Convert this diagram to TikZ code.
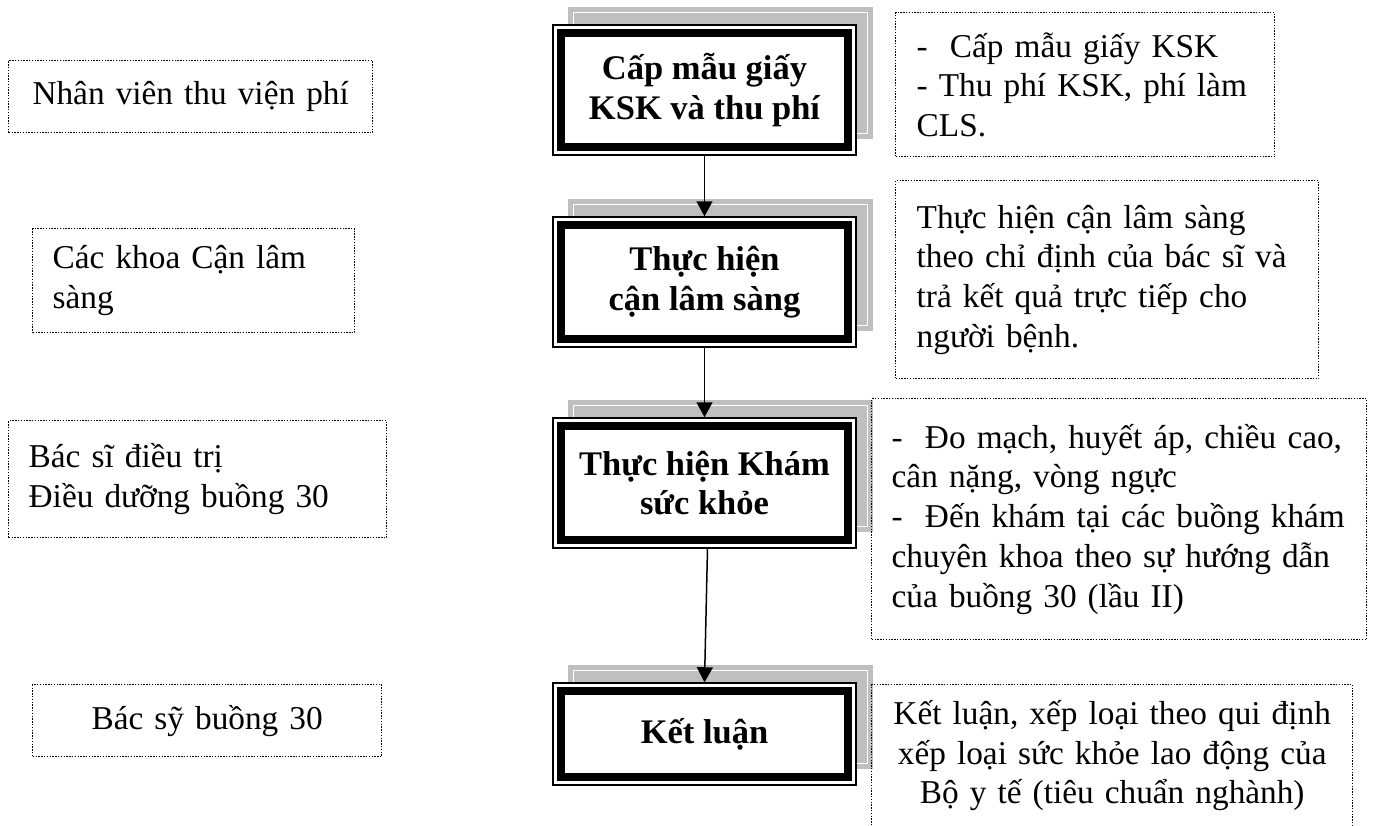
\documentclass[tikz,border=0pt]{standalone}
\usepackage{fontspec}
\setmainfont{Liberation Serif}
\usepackage{tikz}
\usetikzlibrary{arrows.meta,backgrounds}

\begin{document}
\begin{tikzpicture}[x=1pt,y=-1pt,
        staffbox/.style={draw,dash pattern=on 1.4pt off 1.4pt,line width=1.4pt,anchor=north west,
                inner xsep=20pt,inner ysep=4pt,font=\fontsize{33.3}{39.7}\selectfont},
        notebox/.style={staffbox,inner xsep=21pt,align=left},
        taskbox/.style={draw,line width=1.5pt,fill=white,minimum width=303pt,align=center,
                font=\bfseries\fontsize{34.5}{39.7}\selectfont,
                path picture={\draw[line width=7.5pt] ([shift={(8pt,-8pt)}]path picture bounding box.north west)
                        rectangle ([shift={(-8pt,8pt)}]path picture bounding box.south east);}},
        flowarrow/.style={-{Triangle[length=15pt,width=16pt]},line width=1.5pt}]
        \useasboundingbox (0,0) rectangle (1374,825);
        % left column
        \node [staffbox,inner xsep=6pt,text width=352pt,align=center,minimum height=72pt] (staff1) at (8,60) {Nhân viên thu viện phí};
        \node [staffbox,text width=282pt,align=left,minimum height=104pt] (staff2) at (32,228) {Các khoa Cận lâm\\sàng};
        \node [staffbox,text width=338pt,align=left,minimum height=117pt] (staff3) at (8,420) {Bác sĩ điều trị\\Điều dưỡng buồng 30};
        \node [staffbox,inner xsep=6pt,text width=337pt,align=center,minimum height=72pt] (staff4) at (32,684) {Bác sỹ buồng 30};
        % middle column
        \node [taskbox,minimum height=130pt] (task1) at (704.5,90) {Cấp mẫu giấy\\KSK và thu phí};
        \node [taskbox,minimum height=130pt] (task2) at (704.5,282) {Thực hiện\\cận lâm sàng};
        \node [taskbox,minimum height=130pt] (task3) at (704.5,483) {Thực hiện Khám\\sức khỏe};
        \node [taskbox,minimum height=102pt] (task4) at (704.5,734) {Kết luận};
        % right column
        \node [notebox,text width=337pt,minimum height=144pt] (note1) at (895,12) {-\ \ Cấp mẫu giấy KSK\\- Thu phí KSK, phí làm\\CLS.};
        \node [notebox,text width=381pt,minimum height=198pt] (note2) at (895,180) {Thực hiện cận lâm sàng\\theo chỉ định của bác sĩ và\\trả kết quả trực tiếp cho\\người bệnh.};
        \node [notebox,inner xsep=20pt,text width=455pt,minimum height=241pt] (note3) at (871,398) {-\ \ Đo mạch, huyết áp, chiều cao,\\cân nặng, vòng ngực\\-\ \ Đến khám tại các buồng khám\\chuyên khoa theo sự hướng dẫn\\của buồng 30 (lầu II)};
        \node [staffbox,inner xsep=6pt,text width=469pt,align=center,minimum height=142pt] (note4) at (871,684) {Kết luận, xếp loại theo qui định\\xếp loại sức khỏe lao động của\\Bộ y tế (tiêu chuẩn nghành)};
        % shadows
        \begin{scope}[on background layer]
                \foreach \t in {task1,task2,task3,task4}{
                        \fill[gray!50] ([shift={(16pt,17pt)}]\t.north west) rectangle ([shift={(16pt,17pt)}]\t.south east);
                        \draw[white,line width=0.8pt] ([shift={(21pt,12pt)}]\t.north west) rectangle ([shift={(11pt,22pt)}]\t.south east);
                }
        \end{scope}
        \draw[flowarrow] (task1.south) -- (task2.north);
        \draw[flowarrow] (task2.south) -- (task3.north);
        \draw[flowarrow] ([xshift=3pt]task3.south) -- (task4.north);
\end{tikzpicture}
\end{document}
